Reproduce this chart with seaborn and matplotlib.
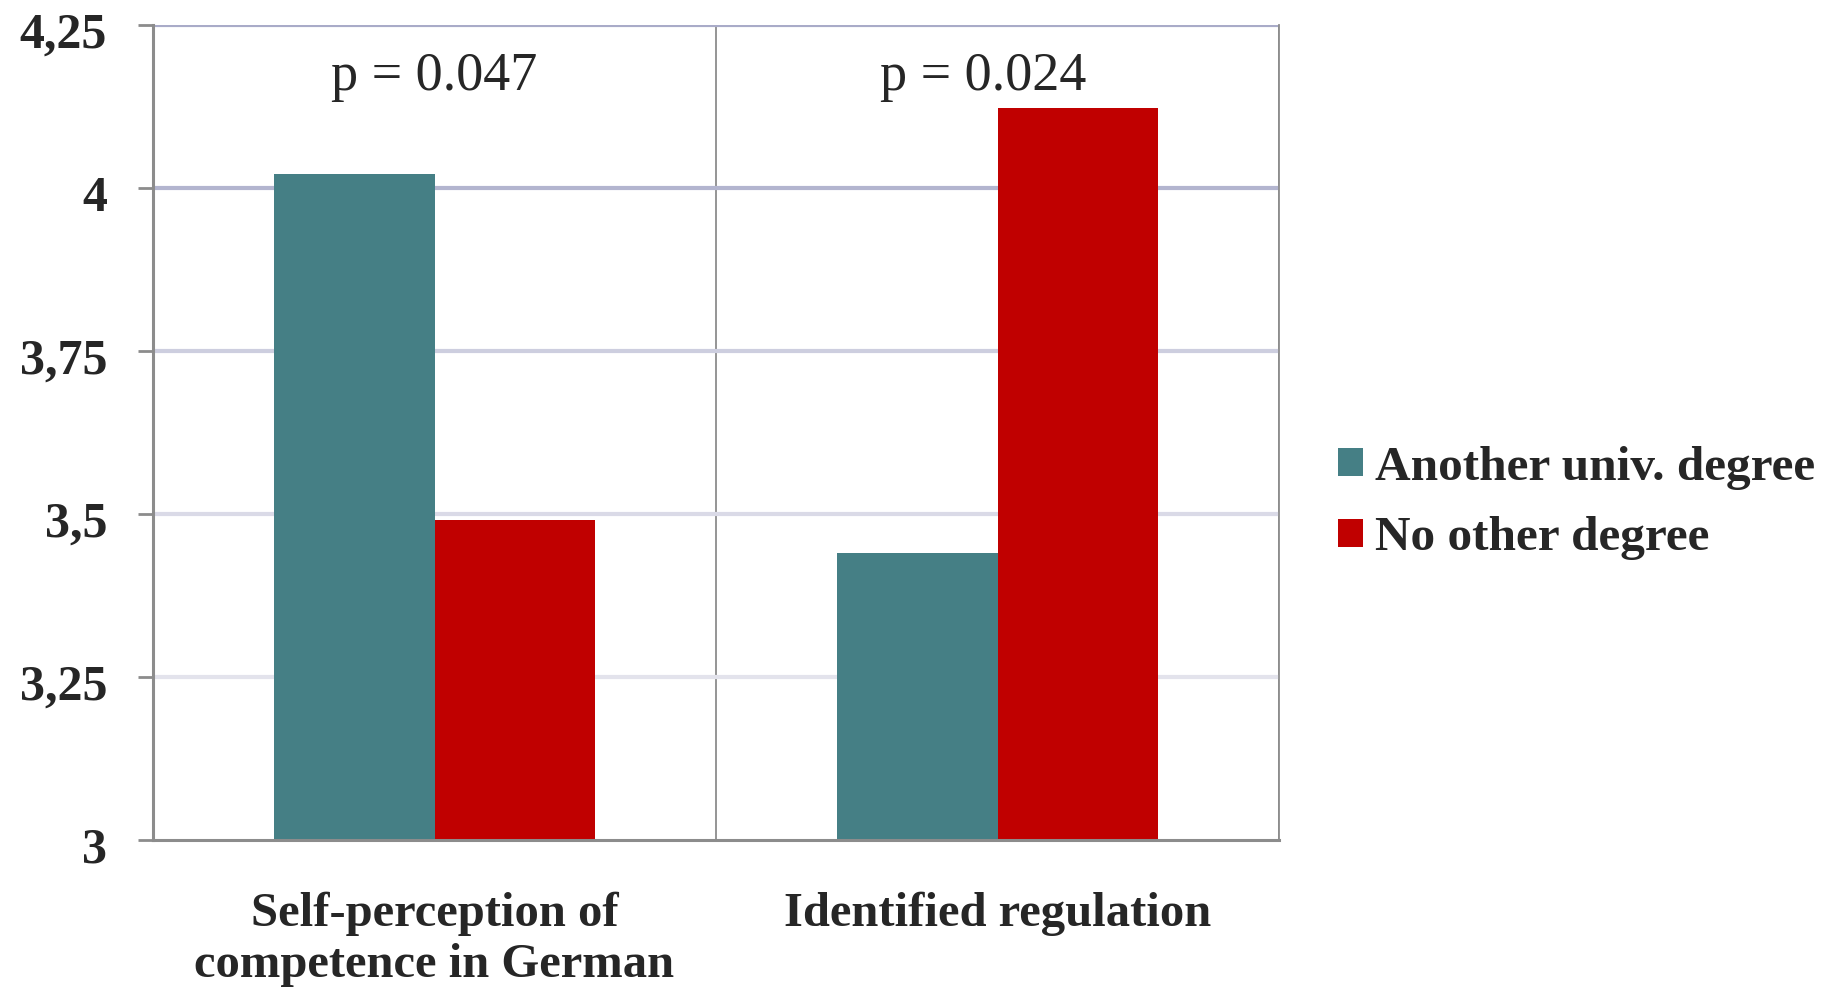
import matplotlib
matplotlib.use("Agg")
import matplotlib.pyplot as plt
import matplotlib.transforms as mtransforms
from matplotlib.ticker import FixedLocator
import pandas as pd
import seaborn as sns

# Mean scores by group for two measures
categories = ["Self-perception of\ncompetence in German", "Identified regulation"]
groups = ["Another univ. degree", "No other degree"]
another_degree = [4.022, 3.44]
no_other_degree = [3.491, 4.122]
p_values = ["p = 0.047", "p = 0.024"]
y_ticks = [3.0, 3.25, 3.5, 3.75, 4.0, 4.25]
y_tick_labels = ["3", "3,25", "3,5", "3,75", "4", "4,25"]

df = pd.DataFrame({
    "category": categories * 2,
    "group": [groups[0]] * 2 + [groups[1]] * 2,
    "value": another_degree + no_other_degree,
})

sns.set_theme(style="white")
plt.rcParams["font.family"] = ["Liberation Serif", "DejaVu Serif"]

teal = "#457f85"
red = "#c00000"
axis_gray = "#8c8c8c"

fig = plt.figure(figsize=(18.36, 9.89), dpi=100)
ax = fig.add_axes([153 / 1836, 1 - 840 / 989, (1279 - 153) / 1836, (840 - 25) / 989])

sns.barplot(data=df, x="category", y="value", hue="group", order=categories,
            hue_order=groups, palette=[teal, red], width=0.57, saturation=1,
            linewidth=0, ax=ax, zorder=3)

ax.set_xlim(-0.5, 1.5)
ax.set_ylim(3.0, 4.25)
ax.set_xlabel("")
ax.set_ylabel("")

# horizontal grid with a soft lavender fade towards the bottom
ax.set_yticks(y_ticks)
ax.set_yticklabels(y_tick_labels, fontsize=36, fontweight="bold")
grid_colors = ["#8c8c8c", "#e3e3ec", "#dadae7", "#cdcedf", "#b3b5cf", "#a9abc8"]
for val, col in zip(y_ticks[1:], grid_colors[1:]):
    ax.axhline(val, color=col, lw=3, zorder=1)

# category separators as minor x gridlines
ax.xaxis.set_minor_locator(FixedLocator([-0.5, 0.5, 1.5]))
ax.grid(which="minor", axis="x", color=axis_gray, lw=1.3, zorder=2)
ax.grid(which="major", axis="both", visible=False)

ax.tick_params(axis="x", which="major", length=0, pad=37, labelsize=35)
ax.tick_params(axis="x", which="minor", length=11, width=1.3, color=axis_gray, direction="out")
ax.tick_params(axis="y", which="major", length=11, width=2, color=axis_gray,
               direction="out", pad=22, left=True)
for lbl in ax.get_xticklabels():
    lbl.set_fontweight("bold")
    lbl.set_linespacing(1.2)

# nudge the y tick labels slightly below their ticks
shift = mtransforms.ScaledTranslation(0, -5 / 100, fig.dpi_scale_trans)
for lbl in ax.get_yticklabels():
    lbl.set_transform(lbl.get_transform() + shift)

ax.spines["top"].set_visible(False)
ax.spines["right"].set_color(axis_gray)
ax.spines["right"].set_linewidth(1.3)
for side in ["left", "bottom"]:
    ax.spines[side].set_color(axis_gray)
    ax.spines[side].set_linewidth(2.2)
    ax.spines[side].set_zorder(4)

# p-values over each category
p_x = [0.0, 0.975]
for x, txt in zip(p_x, p_values):
    ax.text(x, 4.17, txt, ha="center", va="center", fontsize=39,
            family=["Liberation Serif"], zorder=5)

handles, labels = ax.get_legend_handles_labels()
ax.legend(handles, labels, loc="center left",
          bbox_to_anchor=(1338 / 1836, 1 - 503 / 989), bbox_transform=fig.transFigure,
          frameon=False, prop={"family": "Liberation Serif", "weight": "bold", "size": 35.5},
          handlelength=0.5, handleheight=0.5, handletextpad=0.25,
          labelspacing=0.54, borderpad=0, borderaxespad=0)

fig.savefig("out.png", dpi=100, facecolor="white")
